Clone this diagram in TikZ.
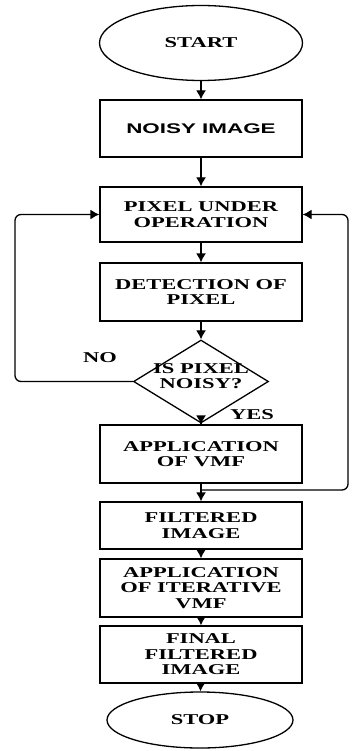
\documentclass[tikz,border=0pt]{standalone}
\usepackage{fontspec}
\usepackage{tikz}
\usetikzlibrary{shapes.geometric,arrows.meta}
\newfontfamily\flowfont{Liberation Serif}[FakeStretch=1.5]
\newfontfamily\flowsans{Liberation Sans}[FakeStretch=1.6]

\begin{document}
\begin{tikzpicture}[x=1pt,y=-1pt,
    flowtext/.style={font=\flowfont\bfseries\fontsize{15}{15.5}\selectfont},
    procbox/.style={draw, line width=1.3pt, minimum width=202pt, minimum height=#1,
        inner sep=0pt, align=center, flowtext},
    termnode/.style={draw, ellipse, line width=1.3pt, inner sep=0pt, flowtext},
    flowarrow/.style={-{Latex[length=9pt,width=10pt]}, line width=1.3pt}]
    \useasboundingbox (0,0) rectangle (351,751);
    % Inicio e fim
    \node[termnode, minimum width=203pt, minimum height=75pt] (start) at (201,43) {START};
    \node[termnode, minimum width=186pt, minimum height=56pt] (stop) at (200,720) {STOP};
    % Caixas
    \node[procbox=57pt] (noisy) at (201,128.5) {\flowsans\fontsize{14}{15}\selectfont NOISY IMAGE};
    \node[procbox=55pt] (pixel) at (201,214.5) {PIXEL UNDER\\OPERATION};
    \node[procbox=58pt] (detect) at (201,292) {DETECTION OF\\PIXEL};
    \node[procbox=58pt] (vmf) at (201,454) {APPLICATION\\OF VMF};
    \node[procbox=47pt] (filtered) at (201,525.5) {FILTERED\\IMAGE};
    \node[procbox=58pt] (iter) at (201,588) {APPLICATION\\OF ITERATIVE\\VMF};
    \node[procbox=57pt] (final) at (201,654.5) {FINAL\\FILTERED\\IMAGE};
    % Decisao
    \node[draw, diamond, line width=1.3pt, inner sep=0pt, minimum width=135pt,
        minimum height=83pt, flowtext] (isnoisy) at (201,381.5)
        {\smash{\makebox[0pt]{\begin{tabular}{@{}c@{}}IS PIXEL\\NOISY?\end{tabular}}}};
    \node[flowtext] (lblno) at (100,358) {NO};
    \node[flowtext] (lblyes) at (252,415) {YES};
    % Setas principais
    \foreach \a/\b in {start/noisy, noisy/pixel, pixel/detect, detect/isnoisy,
        isnoisy/vmf, vmf/filtered, filtered/iter, iter/final, final/stop}
        \draw[flowarrow] (\a) -- (\b);
    % Lacos de volta
    \coordinate (join) at (201,490);
    \draw[flowarrow, rounded corners=6pt] (isnoisy.west) -- (15,381.5) |- (pixel.west);
    \draw[flowarrow, rounded corners=6pt] (join) -- (348,490) |- (pixel.east);
\end{tikzpicture}
\end{document}
